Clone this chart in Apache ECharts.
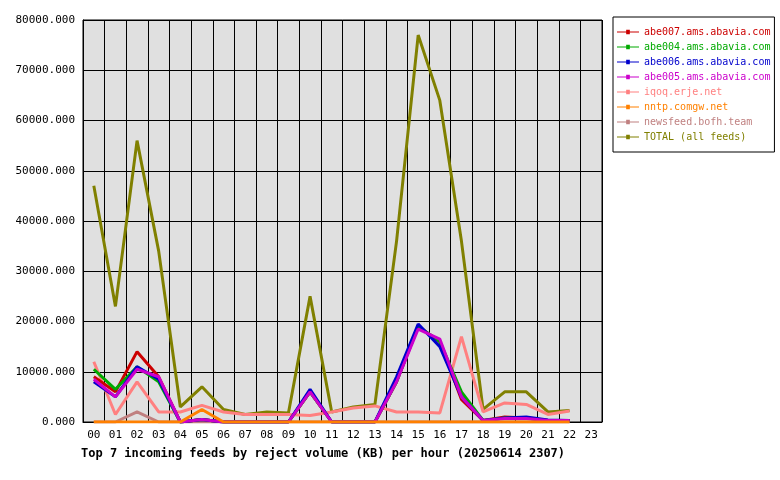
<!DOCTYPE html><html><head><meta charset="utf-8">
<script src="https://cdn.jsdelivr.net/npm/echarts@6/dist/echarts.min.js"></script>
<style>body{margin:0;background:#fff}#c{width:780px;height:480px}</style></head><body><div id="c"></div>
<script>
const hours=['00','01','02','03','04','05','06','07','08','09','10','11','12','13','14','15','16','17','18','19','20','21','22','23'];
const names=['abe007.ams.abavia.com','abe004.ams.abavia.com','abe006.ams.abavia.com','abe005.ams.abavia.com','iqoq.erje.net','nntp.comgw.net','newsfeed.bofh.team','TOTAL (all feeds)'];
const colors=['#cc0000','#00aa00','#0000cc','#cc00cc','#ff8080','#ff8000','#c08080','#808000'];
const abe007=[9000,6000,14000,9000,0,500,0,0,0,0,6000,0,0,0,8000,19000,16000,4500,300,1000,800,300,300];
const abe004=[10500,6500,11000,8000,0,500,0,0,0,0,6000,0,0,0,8000,19000,16000,6000,300,800,800,300,300];
const abe006=[8000,5000,11000,8500,0,500,0,0,0,0,6500,0,0,0,9000,19500,15000,5000,300,800,1000,400,300];
const abe005=[8500,5000,10500,9000,0,500,0,0,0,0,6000,0,0,0,8000,18500,16500,5000,300,700,700,300,300];
const iqoq=[12000,1500,8000,2000,2000,3300,2000,1500,1500,1500,1300,2000,2800,3200,2000,2000,1800,17000,2000,3800,3500,1500,2200];
const nntp=[0,0,0,0,0,2500,0,0,0,0,0,0,0,0,0,0,0,0,0,0,0,0,0];
const newsfeed=[0,0,2000,0,0,0,0,0,0,0,0,0,0,0,0,0,0,0,0,0,0,0,0];
const total=[47000,23000,56000,34000,3000,7000,2500,1500,2000,1800,25000,2000,3000,3500,36000,77000,64000,36000,2500,6000,6000,2000,2300];
const data=[abe007,abe004,abe006,abe005,iqoq,nntp,newsfeed,total];
const order=[7,4,0,1,2,3,5,6];
const F='DejaVu Sans Mono';
const series=order.map(i=>({name:names[i],type:'line',data:data[i],symbol:'none',lineStyle:{width:3,color:colors[i]},itemStyle:{color:colors[i]},z:i===6?1:2}));
const chart=echarts.init(document.getElementById('c'));
chart.setOption({
 animation:false,
 title:{text:'Top 7 incoming feeds by reject volume (KB) per hour (20250614 2307)',left:76,top:443,textStyle:{fontFamily:F,fontSize:12,fontWeight:'bold',color:'#000'}},
 legend:{orient:'vertical',left:613,top:17,data:names,icon:'path://M0,4h10v-2h4v2h10v1h-10v2h-4v-2h-10z',itemWidth:22,itemHeight:6,itemGap:5,padding:[10,4,10,4],borderColor:'#000',borderWidth:1,
  formatter:n=>'{c'+names.indexOf(n)+'|'+n+'}',
  textStyle:{fontFamily:F,fontSize:10,rich:Object.fromEntries(colors.map((c,i)=>['c'+i,{color:c,fontFamily:F,fontSize:10,lineHeight:12}]))}},
 grid:{left:83,right:178,top:20,bottom:58,backgroundColor:'#e0e0e0',show:true,borderColor:'#000',borderWidth:1},
 xAxis:{type:'category',data:hours,boundaryGap:true,axisLine:{lineStyle:{color:'#000'}},axisTick:{show:false},
  splitLine:{show:true,interval:0,lineStyle:{color:'#000',width:1}},axisLabel:{interval:0,fontFamily:F,fontSize:11,color:'#000'}},
 yAxis:{type:'value',min:0,max:80000,interval:10000,axisLine:{show:true,lineStyle:{color:'#000'}},axisTick:{show:false},
  splitLine:{lineStyle:{color:'#000'}},axisLabel:{formatter:v=>v.toFixed(3),fontFamily:F,fontSize:11,color:'#000'}},
 series
});
</script></body></html>
